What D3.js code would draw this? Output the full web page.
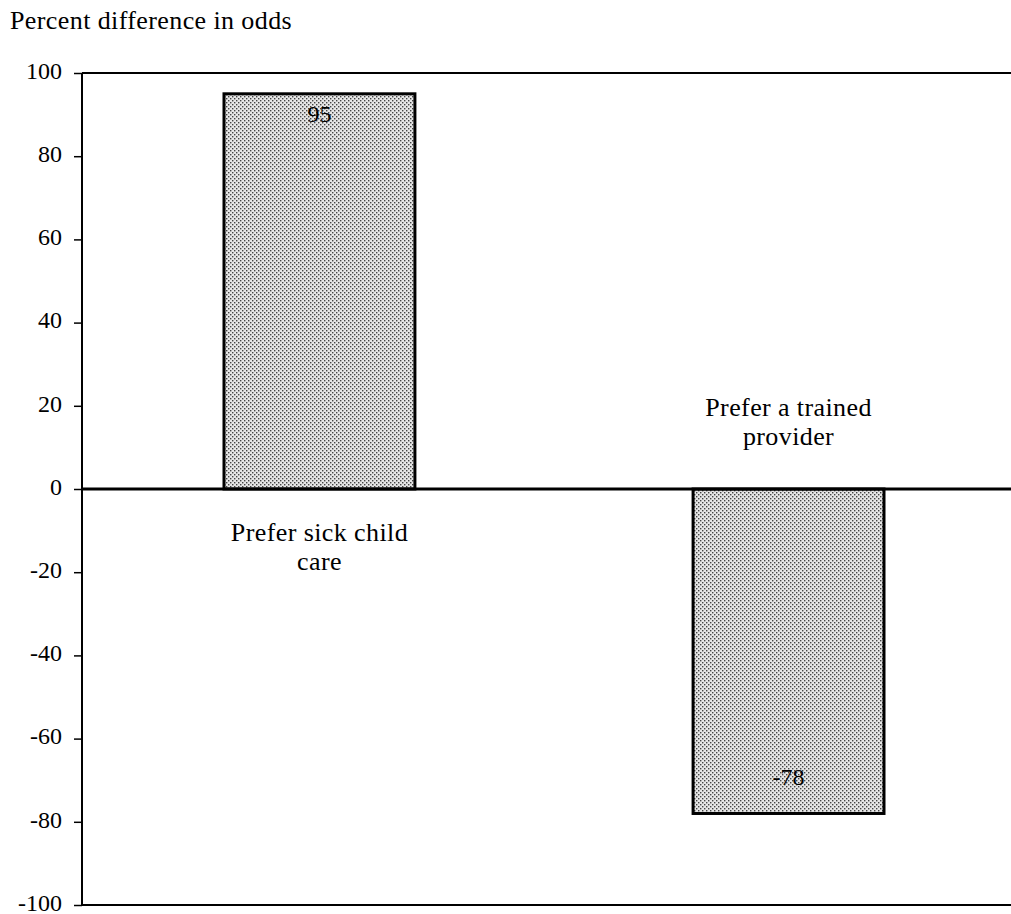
<!DOCTYPE html>
<html><head><meta charset="utf-8">
<script src="https://cdn.jsdelivr.net/npm/d3@7"></script>
<style>body{margin:0;background:#fff}svg{display:block}text{font-family:"Liberation Serif","Times New Roman",serif;fill:#000}</style>
</head><body><svg id="c" width="1011" height="914"></svg>
<script>
const categories = ["Prefer sick child care", "Prefer a trained provider"];
const labelLines = [["Prefer sick child", "care"], ["Prefer a trained", "provider"]];
const values = [95, -78];
const yTicks = [100, 80, 60, 40, 20, 0, -20, -40, -60, -80, -100];
const yTitle = "Percent difference in odds";

(function () {
const svg = d3.select("#c");
const mLeft = 82, mRight = 1011, mTop = 73, mBottom = 905;
const y = d3.scaleLinear().domain([-100, 100]).range([mBottom, mTop]);
const x = d3.scaleBand().domain(categories).range([224, 884]).paddingInner(0.593).paddingOuter(0);

const defs = svg.append("defs");
const pat = defs.append("pattern").attr("id", "dots").attr("patternUnits", "userSpaceOnUse").attr("width", 4).attr("height", 4);
pat.append("rect").attr("width", 4).attr("height", 4).attr("fill", "#e6e6e6");
pat.append("rect").attr("x", 0).attr("y", 0).attr("width", 1.4).attr("height", 1.4).attr("fill", "#444");
pat.append("rect").attr("x", 2).attr("y", 2).attr("width", 1.4).attr("height", 1.4).attr("fill", "#444");

const FS = 26, LS = 0.4;

svg.append("text").attr("x", 10).attr("y", 29).attr("font-size", FS).attr("letter-spacing", LS).text(yTitle);

svg.append("line").attr("x1", mLeft).attr("x2", mRight).attr("y1", y(100)).attr("y2", y(100)).attr("stroke", "#000").attr("stroke-width", 2);
svg.append("line").attr("x1", mLeft).attr("x2", mRight).attr("y1", y(-100)).attr("y2", y(-100)).attr("stroke", "#000").attr("stroke-width", 2);

svg.selectAll("rect.bar").data(values).enter().append("rect").attr("class", "bar")
  .attr("x", (d, i) => x(categories[i]))
  .attr("width", x.bandwidth())
  .attr("y", d => y(Math.max(0, d)))
  .attr("height", d => Math.abs(y(d) - y(0)))
  .attr("fill", "url(#dots)").attr("stroke", "#000").attr("stroke-width", 3);

svg.append("line").attr("x1", mLeft).attr("x2", mRight).attr("y1", y(0)).attr("y2", y(0)).attr("stroke", "#000").attr("stroke-width", 3);

const ax = svg.append("g").attr("transform", `translate(${mLeft},0)`)
  .call(d3.axisLeft(y).tickValues(yTicks).tickSize(8).tickPadding(12).tickFormat(d => d < 0 ? "-" + Math.abs(d) : d));
ax.select(".domain").attr("stroke-width", 2).attr("d", `M0,${mTop}V${mBottom}`);
ax.selectAll("line").attr("stroke-width", 1.5);
ax.selectAll("text").attr("font-size", 24).attr("font-family", "Liberation Serif, serif").attr("dy", "0.22em");

svg.selectAll("text.val").data(values).enter().append("text").attr("class", "val")
  .attr("x", (d, i) => x(categories[i]) + x.bandwidth() / 2)
  .attr("y", d => d > 0 ? y(d) + 28 : y(d) - 28)
  .attr("text-anchor", "middle").attr("font-size", 24)
  .text(d => d);

labelLines.forEach((lines, i) => {
  const cx = x(categories[i]) + x.bandwidth() / 2;
  const startY = values[i] > 0 ? y(0) + 52 : y(0) - 73;
  lines.forEach((t, j) => {
    svg.append("text").attr("x", cx).attr("y", startY + j * 29).attr("text-anchor", "middle")
      .attr("font-size", FS).attr("letter-spacing", LS).text(t);
  });
});
})();
</script></body></html>
